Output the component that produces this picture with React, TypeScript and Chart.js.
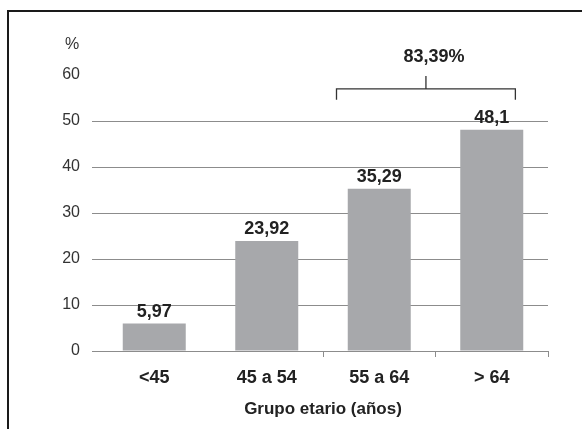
import React, { useEffect, useRef } from "react";
import { Chart, registerables } from "chart.js";

Chart.register(...registerables);

const categories = ["<45", "45 a 54", "55 a 64", "> 64"];
const values = [5.97, 23.92, 35.29, 48.1];
const yTicks = [0, 10, 20, 30, 40, 50, 60];
const bracketIdx = [2, 3];
const xTitle = "Grupo etario (años)";
const yUnit = "%";

const fmt = (v: number) => String(Math.round(v * 100) / 100).replace(".", ",");

const BOLD = "'Liberation Sans', Arial, sans-serif";
const GRID = "#8c8c8c";

const annot = {
  id: "annot",
  afterDatasetsDraw(chart: any) {
    const ctx = chart.ctx;
    const meta = chart.getDatasetMeta(0);
    const xs = chart.scales.x;
    const ys = chart.scales.y;
    ctx.save();
    ctx.fillStyle = "#222";
    ctx.font = `bold 18px ${BOLD}`;
    ctx.textAlign = "center";
    ctx.textBaseline = "alphabetic";
    meta.data.forEach((bar: any, i: number) => {
      ctx.fillText(fmt(values[i]), bar.x, bar.y - 7);
    });
    // unit label
    ctx.font = `16px ${BOLD}`;
    ctx.fillStyle = "#333";
    ctx.textBaseline = "middle";
    ctx.fillText(yUnit, ys.right - 26, ys.getPixelForValue(60) - 30);
    // bracket
    const catW = (xs.right - xs.left) / categories.length;
    const x1 = xs.getPixelForValue(bracketIdx[0]) - 0.38 * catW;
    const x2 = xs.getPixelForValue(bracketIdx[1]) + 0.21 * catW;
    const yh = ys.getPixelForValue(57);
    const ye = ys.getPixelForValue(54.6);
    const yt = ys.getPixelForValue(59.8);
    const xm = (x1 + x2) / 2;
    ctx.strokeStyle = "#333";
    ctx.lineWidth = 1.3;
    ctx.beginPath();
    ctx.moveTo(x1, ye);
    ctx.lineTo(x1, yh);
    ctx.lineTo(x2, yh);
    ctx.lineTo(x2, ye);
    ctx.moveTo(xm, yh);
    ctx.lineTo(xm, yt);
    ctx.stroke();
    const sum = bracketIdx.reduce((s, i) => s + values[i], 0);
    ctx.font = `bold 18px ${BOLD}`;
    ctx.fillStyle = "#222";
    ctx.textBaseline = "middle";
    ctx.fillText(fmt(sum) + "%", xm + 8, ys.getPixelForValue(63.9));
    ctx.restore();
  },
};

export default function App() {
  const ref = useRef<HTMLCanvasElement>(null);
  useEffect(() => {
    if (!ref.current) return;
    const chart = new Chart(ref.current, {
      type: "bar",
      data: {
        labels: categories,
        datasets: [
          {
            data: values,
            backgroundColor: "#a7a8ab",
            categoryPercentage: 1,
            barPercentage: 0.56,
          },
        ],
      },
      options: {
        animation: false,
        responsive: false,
        devicePixelRatio: 1,
        layout: { padding: { top: 75, right: 34, left: 0, bottom: 0 } },
        plugins: { legend: { display: false }, tooltip: { enabled: false } },
        scales: {
          x: {
            afterFit: (s: any) => {
              s.height = 78;
            },
            grid: {
              display: true,
              drawOnChartArea: false,
              offset: true,
              tickLength: 6,
              color: (c: any) => (c.type !== "tick" || c.index >= 2 ? GRID : "transparent"),
            },
            border: { display: true, color: GRID },
            ticks: {
              padding: 10,
              color: "#222",
              font: { family: BOLD, size: 18, weight: "bold" },
            },
            title: {
              display: true,
              text: xTitle,
              color: "#222",
              font: { family: BOLD, size: 17, weight: "bold", lineHeight: 1.2 },
              padding: { top: 2, bottom: 9 },
            },
          },
          y: {
            min: 0,
            max: 60,
            afterFit: (s: any) => {
              s.width = 98;
            },
            afterBuildTicks: (s: any) => {
              s.ticks = yTicks.map((v) => ({ value: v }));
            },
            border: { display: false },
            grid: {
              tickLength: 6,
              color: (c: any) => (c.tick && c.tick.value === 60 ? "transparent" : GRID),
            },
            ticks: {
              padding: 12,
              color: "#333",
              font: { family: BOLD, size: 16 },
            },
          },
        },
      },
      plugins: [annot],
    });
    return () => chart.destroy();
  }, []);
  return (
    <div style={{ position: "fixed", left: 0, top: 0, width: 582, height: 429, background: "#fff" }}>
      <canvas ref={ref} width={582} height={429} style={{ position: "absolute", left: 0, top: 0 }} />
      <div
        style={{
          position: "absolute",
          left: 7,
          top: 10,
          right: 0,
          bottom: 0,
          borderTop: "2px solid #1a1a1a",
          borderLeft: "2px solid #1a1a1a",
          pointerEvents: "none",
        }}
      />
    </div>
  );
}
